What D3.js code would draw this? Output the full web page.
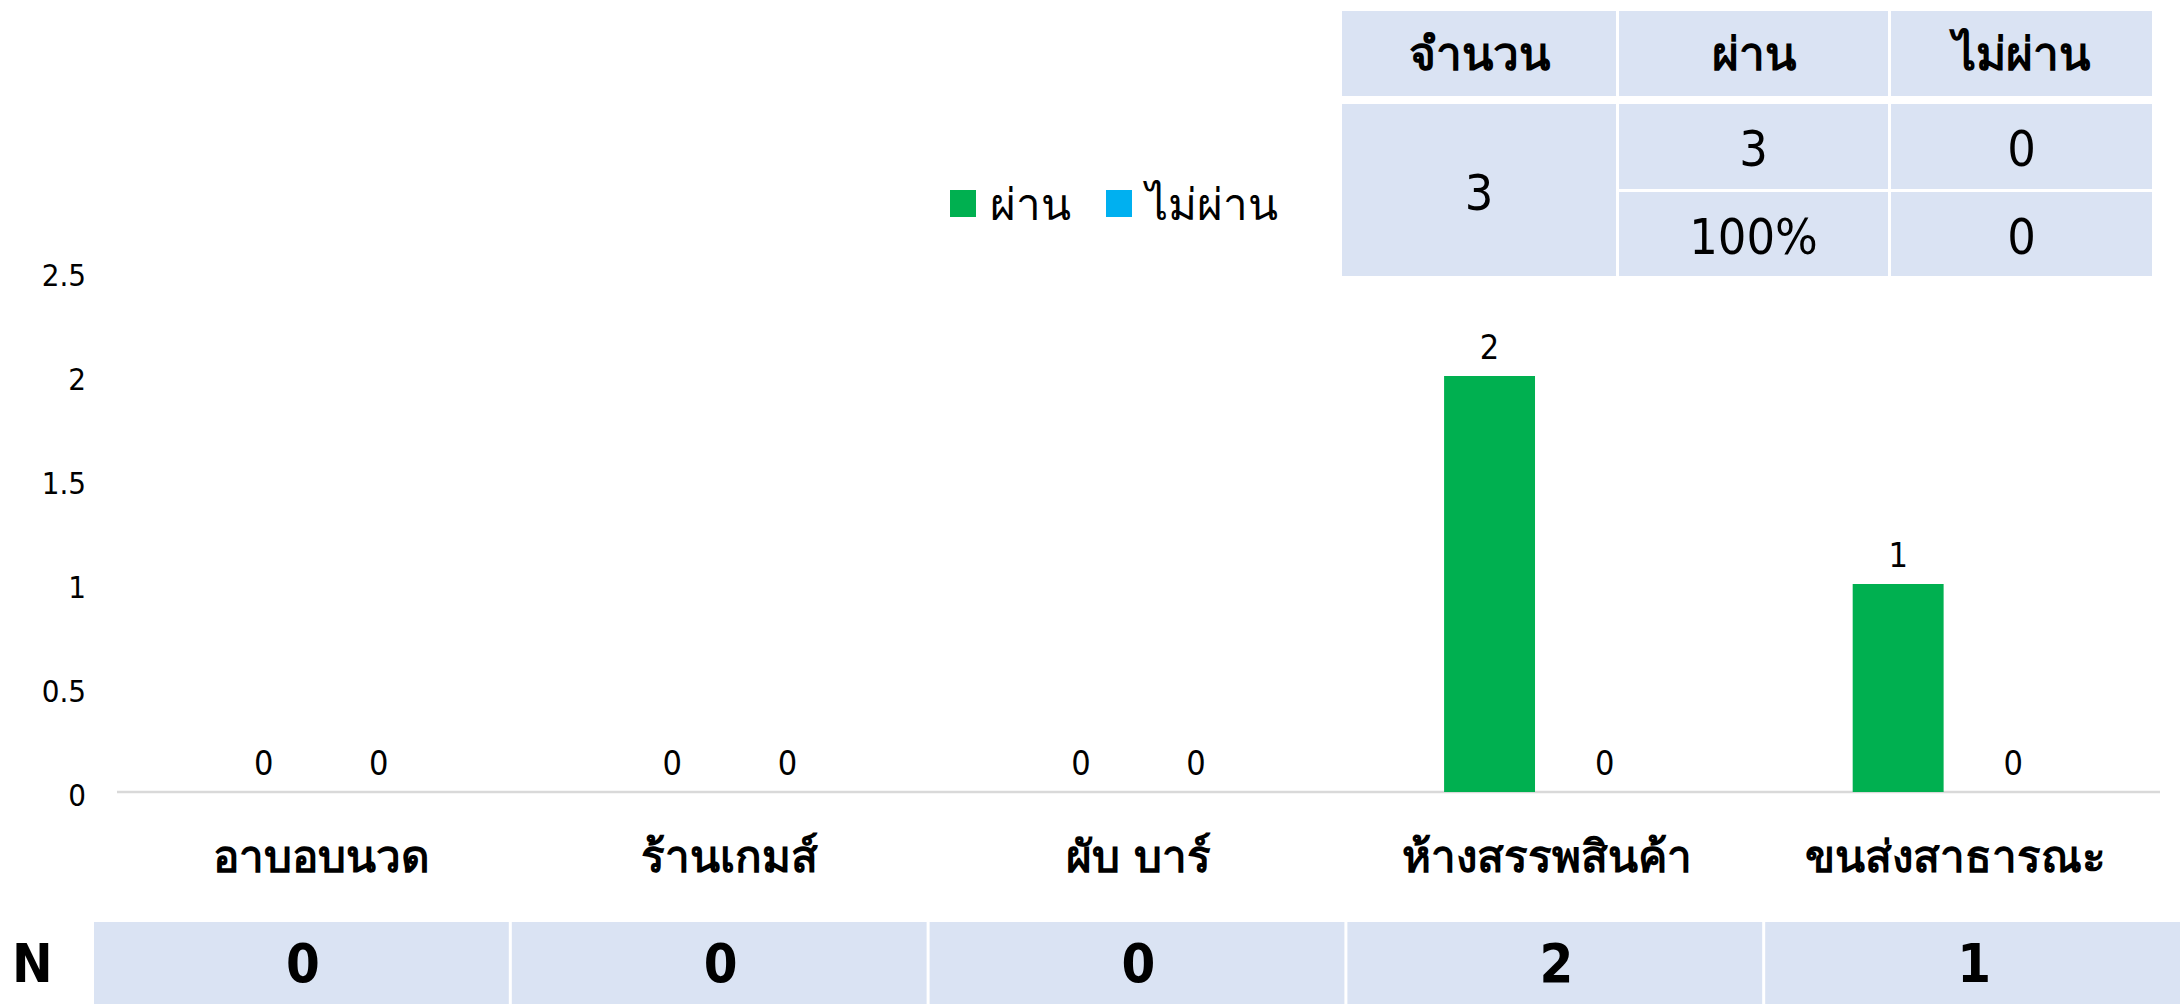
<!DOCTYPE html>
<html>
<head>
<meta charset="utf-8">
<script src="https://cdn.jsdelivr.net/npm/d3@7"></script>
<style>
    body { margin: 0; background: #fff; }
    text { font-family: "DejaVu Sans Condensed", "DejaVu Sans", sans-serif; fill: #000; }
</style>
</head>
<body>
<svg width="2180" height="1004"></svg>
<script>
/****** DATA ******/
var categories = ['อาบอบนวด', 'ร้านเกมส์', 'ผับ บาร์', 'ห้างสรรพสินค้า', 'ขนส่งสาธารณะ'];
var passValues = [0, 0, 0, 2, 1];
var failValues = [0, 0, 0, 0, 0];
var nValues = [0, 0, 0, 2, 1];
var yTicks = [0, 0.5, 1, 1.5, 2, 2.5];
var seriesNames = ['ผ่าน', 'ไม่ผ่าน'];
var seriesColors = ['#00B050', '#00B0F0'];
var summaryHeaders = ['จำนวน', 'ผ่าน', 'ไม่ผ่าน'];
var summaryTotal = 3;
var summaryCounts = [3, 0];
var summaryShares = ['100%', '0'];

function init() {
    var svg = d3.select("svg");
    var cellFill = '#DAE3F3';

    // Chart area
    var plot = {left: 117, right: 2160, top: 272, bottom: 792};

    var x0 = d3.scaleBand()
        .domain(categories)
        .range([plot.left, plot.right]);

    var x1 = d3.scaleBand()
        .domain([0, 1])
        .range([0, x0.bandwidth()])
        .paddingInner(0.21)
        .paddingOuter(0.88);

    var y = d3.scaleLinear()
        .domain([0, 2.5])
        .range([plot.bottom, plot.top]);

    // Y axis (labels only)
    var yAxis = svg.append("g")
        .attr("transform", "translate(" + plot.left + ",0)")
        .call(d3.axisLeft(y).tickValues(yTicks).tickSize(0).tickPadding(31)
            .tickFormat(function(d) { return d; }));
    yAxis.select(".domain").remove();
    yAxis.selectAll("text")
        .attr("dy", "0.45em")
        .style("font-size", "31px")
        .style("font-family", "'DejaVu Sans Condensed', sans-serif");

    // Baseline
    svg.append("line")
        .attr("x1", plot.left)
        .attr("x2", plot.right)
        .attr("y1", y(0))
        .attr("y2", y(0))
        .attr("stroke", "#D9D9D9")
        .attr("stroke-width", 2.5);

    // Bars
    var rows = categories.map(function(c, i) {
        return {cat: c, values: [passValues[i], failValues[i]]};
    });

    var groups = svg.selectAll("g.cat")
        .data(rows)
        .enter().append("g")
        .attr("class", "cat")
        .attr("transform", function(d) { return "translate(" + x0(d.cat) + ",0)"; });

    groups.selectAll("rect")
        .data(function(d) { return d.values.map(function(v, k) { return {k: k, v: v}; }); })
        .enter().append("rect")
        .attr("x", function(d) { return x1(d.k); })
        .attr("width", x1.bandwidth())
        .attr("y", function(d) { return y(d.v); })
        .attr("height", function(d) { return y(0) - y(d.v); })
        .attr("fill", function(d) { return seriesColors[d.k]; });

    groups.selectAll("text.val")
        .data(function(d) { return d.values.map(function(v, k) { return {k: k, v: v}; }); })
        .enter().append("text")
        .attr("class", "val")
        .attr("x", function(d) { return x1(d.k) + x1.bandwidth() / 2; })
        .attr("y", function(d) { return y(d.v) - 17; })
        .attr("text-anchor", "middle")
        .style("font-size", "34px")
        .text(function(d) { return d.v; });

    // Category labels
    svg.selectAll("text.catlabel")
        .data(categories)
        .enter().append("text")
        .attr("class", "catlabel")
        .attr("x", function(d) { return x0(d) + x0.bandwidth() / 2; })
        .attr("y", 872)
        .attr("text-anchor", "middle")
        .style("font-size", "44px")
        .style("font-weight", "bold")
        .text(function(d) { return d; });

    // Legend
    var legendX = [950, 1106];
    var legend = svg.selectAll("g.legend")
        .data(seriesNames)
        .enter().append("g")
        .attr("class", "legend")
        .attr("transform", function(d, i) { return "translate(" + legendX[i] + ",190)"; });
    legend.append("rect")
        .attr("width", 26)
        .attr("height", 27)
        .attr("fill", function(d, i) { return seriesColors[i]; });
    legend.append("text")
        .attr("x", 40)
        .attr("y", 30)
        .style("font-size", "44px")
        .text(function(d) { return d; });

    // Summary table (top right)
    var colX = [1342, 1619, 1891, 2155];
    var rowY = [11, 104, 192, 279];
    var gap = 3;
    var tbl = svg.append("g");

    function cell(c0, c1, r0, r1, label, bold) {
        tbl.append("rect")
            .attr("x", colX[c0])
            .attr("y", rowY[r0])
            .attr("width", colX[c1] - colX[c0] - gap)
            .attr("height", rowY[r1] - rowY[r0] - (r1 === 1 ? 8 : gap))
            .attr("fill", cellFill);
        tbl.append("text")
            .attr("x", (colX[c0] + colX[c1] - gap) / 2)
            .attr("y", (rowY[r0] + rowY[r1]) / 2 - (r1 === 1 ? 4 : 0))
            .attr("dy", "0.36em")
            .attr("text-anchor", "middle")
            .style("font-size", bold ? "46px" : "50px")
            .style("font-weight", bold ? "bold" : "normal")
            .text(label);
    }
    summaryHeaders.forEach(function(h, i) { cell(i, i + 1, 0, 1, h, true); });
    cell(0, 1, 1, 3, summaryTotal, false);
    cell(1, 2, 1, 2, summaryCounts[0], false);
    cell(2, 3, 1, 2, summaryCounts[1], false);
    cell(1, 2, 2, 3, summaryShares[0], false);
    cell(2, 3, 2, 3, summaryShares[1], false);

    // N row (bottom)
    var xn = d3.scaleBand()
        .domain(categories)
        .range([94, 2183]);
    var nTop = 922, nBottom = 1004;

    svg.append("text")
        .attr("x", 12)
        .attr("y", (nTop + nBottom) / 2)
        .attr("dy", "0.36em")
        .style("font-size", "54px")
        .style("font-weight", "bold")
        .text("N");

    var nCells = svg.selectAll("g.ncell")
        .data(categories)
        .enter().append("g")
        .attr("class", "ncell");
    nCells.append("rect")
        .attr("x", function(d) { return xn(d); })
        .attr("y", nTop)
        .attr("width", xn.bandwidth() - gap)
        .attr("height", nBottom - nTop)
        .attr("fill", cellFill);
    nCells.append("text")
        .attr("x", function(d) { return xn(d) + xn.bandwidth() / 2; })
        .attr("y", (nTop + nBottom) / 2)
        .attr("dy", "0.36em")
        .attr("text-anchor", "middle")
        .style("font-size", "54px")
        .style("font-weight", "bold")
        .text(function(d, i) { return nValues[i]; });
}

init();
</script>
</body>
</html>
